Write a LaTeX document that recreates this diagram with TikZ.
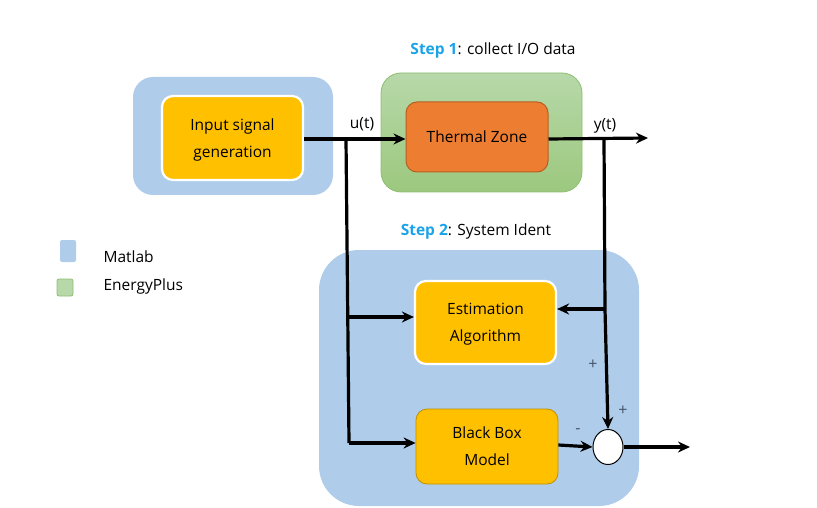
\documentclass[tikz,border=0pt]{standalone}
\usepackage{fontspec}
\setmainfont{Open Sans}
\usetikzlibrary{arrows.meta,shapes.geometric}
\definecolor{mblue}{HTML}{AFCDEA}
\definecolor{eplight}{HTML}{B7D8A9}
\definecolor{epdark}{HTML}{9CC87E}
\definecolor{epborder}{HTML}{8DBE73}
\definecolor{ygold}{HTML}{FFC000}
\definecolor{ygoldborder}{HTML}{BF9000}
\definecolor{orng}{HTML}{ED7D31}
\definecolor{orngborder}{HTML}{B85E22}
\definecolor{stepblue}{HTML}{1AA3E8}
\definecolor{signcol}{HTML}{44546A}
\begin{document}
\begin{tikzpicture}[x=1pt,y=-1pt,
  font=\fontsize{15.5}{27}\selectfont,
  group/.style={fill=mblue, draw=none, rounded corners=20pt},
  ybox/.style={fill=ygold, draw=white, line width=2.2pt, rounded corners=11pt, align=center, inner sep=0pt, text depth=0pt},
  sig/.style={line width=3.2pt, -{Stealth[length=12pt,width=11pt]}},
  line/.style={line width=3.2pt},
  pm/.style={text=signcol, font=\fontsize{16}{16}\selectfont}
]
\useasboundingbox (0,0) rectangle (817,508);
% groups
\fill[group] (133,77) rectangle (333,195);
\draw[draw=epborder, line width=0.8pt, top color=eplight, bottom color=epdark, rounded corners=20pt] (381,73) rectangle (582,192);
\fill[mblue, rounded corners=40pt] (319,250) rectangle (639,506);
% step labels
\node (s1) at (493,50) {\textcolor{stepblue}{\bfseries Step 1}: collect I/O data};
\node (s2) at (476,231) {\textcolor{stepblue}{\bfseries Step 2}: System Ident};
% blocks
\node[ybox, minimum width=141pt, minimum height=84pt] (inp) at (232.5,138) {Input signal\\generation};
\node[fill=orng, draw=orngborder, line width=1pt, rounded corners=11pt, minimum width=142pt, minimum height=70pt] (tz) at (477,137) {Thermal Zone};
\node[ybox, minimum width=141pt, minimum height=83pt] (est) at (485.5,322.5) {Estimation\\Algorithm};
\node[ybox, draw=ygoldborder, line width=0.8pt, minimum width=142pt, minimum height=75pt] (bbm) at (487,446.5) {Black Box\\Model};
\node[ellipse, draw=black, fill=white, line width=1pt, minimum width=30pt, minimum height=35pt, inner sep=0pt] (sum) at (608,447) {};
% coordinates
\coordinate (ub) at (346,139);
\coordinate (ubot) at (349,443);
\coordinate (uest) at (348,317);
\coordinate (yb) at (604,139);
\coordinate (yest) at (605,309);
\coordinate (yout) at (648,138);
\coordinate (out) at (690,447);
% connectors
\draw[sig] (inp.east |- 0,139) -- (tz.west |- 0,139);
\draw[sig] (tz.east |- 0,139) -- (yout);
\draw[line] (ub) -- (ubot);
\draw[sig] (uest) -- (est.west |- uest);
\draw[sig] (ubot) -- (bbm.west |- ubot);
\draw[line] (yb) -- (yest);
\draw[sig] (yest) -- (est.east |- yest);
\draw[sig] (yest) -- (sum.north);
\draw[sig] (bbm.east |- 0,445) -- (sum.west);
\draw[sig] (sum.east) -- (out);
% signal labels
\node (ut) at (362,124) {u(t)};
\node (yt) at (605,126) {y(t)};
\node[pm] (p1) at (593,365) {+};
\node[pm] (p2) at (623,411) {+};
\node[pm] (m1) at (578,431) {-};
% legend
\fill[mblue, rounded corners=2pt] (60,240) rectangle (76,262);
\draw[fill=eplight, draw=epborder, line width=0.8pt, rounded corners=2pt] (57,279) rectangle (73,296);
\node[anchor=west] (lm) at (100,257) {Matlab};
\node[anchor=west] (le) at (100,286) {EnergyPlus};
\end{tikzpicture}
\end{document}
